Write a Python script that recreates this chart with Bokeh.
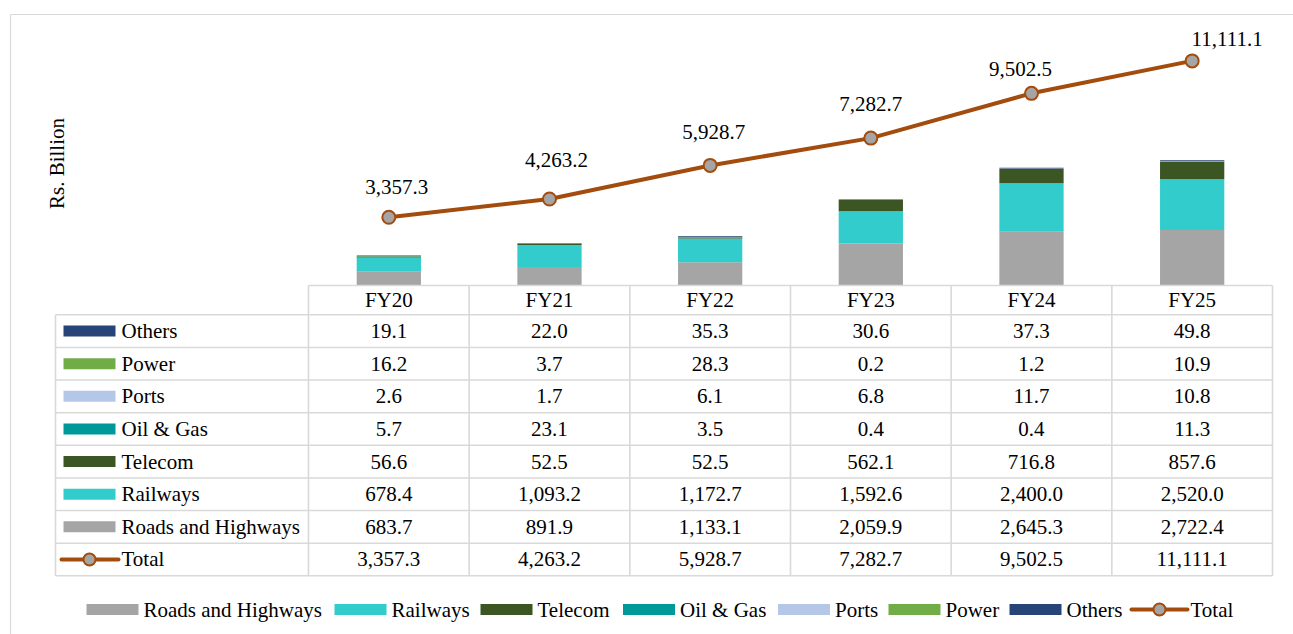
import math
from bokeh.plotting import figure
from bokeh.models import Range1d, ColumnDataSource
from bokeh.core.properties import value
from bokeh.embed import file_html
from bokeh.resources import INLINE

# ---------------- data ----------------
years = ["FY20", "FY21", "FY22", "FY23", "FY24", "FY25"]
roads = [683.7, 891.9, 1133.1, 2059.9, 2645.3, 2722.4]
railways = [678.4, 1093.2, 1172.7, 1592.6, 2400.0, 2520.0]
telecom = [56.6, 52.5, 52.5, 562.1, 716.8, 857.6]
oil_gas = [5.7, 23.1, 3.5, 0.4, 0.4, 11.3]
ports = [2.6, 1.7, 6.1, 6.8, 11.7, 10.8]
power = [16.2, 3.7, 28.3, 0.2, 1.2, 10.9]
others = [19.1, 22.0, 35.3, 30.6, 37.3, 49.8]
total = [3357.3, 4263.2, 5928.7, 7282.7, 9502.5, 11111.1]

series_names = ["Roads and Highways", "Railways", "Telecom", "Oil & Gas", "Ports", "Power", "Others"]
series_values = [roads, railways, telecom, oil_gas, ports, power, others]
series_keys = ["roads", "railways", "telecom", "oil_gas", "ports", "power", "others"]

# ---------------- styles ----------------
colors = ["#A5A5A5", "#33CCCC", "#3B5623", "#009999", "#B4C7E7", "#70AD47", "#264478"]
BROWN = "#A34C0D"
MARKER_FILL = "#A5A5A5"
GRID = "#D9D9D9"
FONT = value("'Liberation Serif', 'Times New Roman', 'DejaVu Serif', serif")
FS = value("21px")

# label offsets (screen px) for the total labels
label_dx = [8, 7, 3.5, 0, -11, 35]
label_dy = [-30, -39.5, -33.7, -34, -24.4, -21.5]

# ---------------- layout ----------------
W, H, OFF = 1293, 634, 0


def cx(px):
    return px - OFF


COL_W = 160.667
COL0 = cx(388.33)
ZERO_Y = cx(284.5)
PX_PER_UNIT = 0.02017

TBL_TOP = cx(285.0)
HDR_BOT = cx(314.3)
ROW_H = 32.625
LEFT = cx(55.0)
LBL_RIGHT = COL0 - COL_W / 2
RIGHT = LBL_RIGHT + 6 * COL_W
N_ROWS = 8

p = figure(
    width=W, height=H,
    x_range=Range1d(-COL0 / COL_W, (W - COL0) / COL_W),
    y_range=Range1d(-(H - ZERO_Y) / PX_PER_UNIT, ZERO_Y / PX_PER_UNIT),
    output_backend="svg", toolbar_location=None,
    x_axis_location=None, y_axis_location=None,
    min_border=0, outline_line_color=None,
    background_fill_color="white", border_fill_color="white",
)
p.xgrid.visible = False
p.ygrid.visible = False
p.extra_x_ranges = {"px": Range1d(0, W)}
p.extra_y_ranges = {"py": Range1d(H, 0)}
PX = dict(x_range_name="px", y_range_name="py")

# outer chart frame
p.segment(x0=[cx(10), cx(10)], y0=[cx(14), cx(14)], x1=[W + 5, cx(10)], y1=[cx(14), H + 5],
          line_color=GRID, line_width=1.2, **PX)

# ---------------- bars ----------------
xs = list(range(len(years)))
src_data = {"x": xs}
for k, v in zip(series_keys, series_values):
    src_data[k] = v
src = ColumnDataSource(src_data)
p.vbar_stack(series_keys, x="x", width=0.4, source=src,
             fill_color=colors, line_color=None)

# ---------------- total line ----------------
p.line(x=xs, y=total, line_color=BROWN, line_width=4)
p.scatter(x=xs, y=total, size=13, fill_color=MARKER_FILL, line_color=BROWN, line_width=2)
lbl_src = ColumnDataSource(dict(x=xs, y=total, t=[f"{v:,.1f}" for v in total],
                                dx=label_dx, dy=label_dy))
p.text(x="x", y="y", text="t", x_offset="dx", y_offset="dy", source=lbl_src,
       text_font=FONT, text_font_size=FS, text_align="center", text_baseline="middle",
       text_color="black")

# y axis title
p.text(x=[cx(56)], y=[cx(163)], text=["Rs. Billion"], angle=math.pi / 2,
       text_font=FONT, text_font_size=FS, text_align="center", text_baseline="middle",
       text_color="black", **PX)

# ---------------- data table ----------------
row_edges = [HDR_BOT + k * ROW_H for k in range(N_ROWS + 1)]
hx0, hy0, hx1, hy1 = [LBL_RIGHT], [TBL_TOP], [RIGHT], [TBL_TOP]
for e in row_edges:
    hx0.append(LEFT); hx1.append(RIGHT); hy0.append(e); hy1.append(e)
vx0, vy0, vx1, vy1 = [LEFT], [HDR_BOT], [LEFT], [row_edges[-1]]
for j in range(7):
    xx = LBL_RIGHT + j * COL_W
    vx0.append(xx); vx1.append(xx); vy0.append(TBL_TOP); vy1.append(row_edges[-1])
p.segment(x0=hx0 + vx0, y0=hy0 + vy0, x1=hx1 + vx1, y1=hy1 + vy1,
          line_color=GRID, line_width=1.6, **PX)

# header
p.text(x=xs, y=[(TBL_TOP + HDR_BOT) / 2] * len(xs), text=years, y_range_name="py",
       text_font=FONT, text_font_size=FS, text_align="center", text_baseline="middle",
       text_color="black")

table_names = list(reversed(series_names)) + ["Total"]
table_values = list(reversed(series_values)) + [total]
table_colors = list(reversed(colors))
row_centers = [HDR_BOT + (k + 0.5) * ROW_H for k in range(N_ROWS)]

vt_x, vt_y, vt_t = [], [], []
for k, vals in enumerate(table_values):
    for i, v in enumerate(vals):
        vt_x.append(i); vt_y.append(row_centers[k]); vt_t.append(f"{v:,.1f}")
p.text(x=vt_x, y=vt_y, text=vt_t, y_range_name="py",
       text_font=FONT, text_font_size=FS, text_align="center", text_baseline="middle",
       text_color="black")

# row labels + keys
p.text(x=[cx(121)] * N_ROWS, y=row_centers, text=table_names,
       text_font=FONT, text_font_size=FS, text_align="left", text_baseline="middle",
       text_color="black", **PX)
p.rect(x=[cx(89)] * 7, y=row_centers[:7], width=52, height=11,
       fill_color=table_colors, line_color=None, **PX)
p.line(x=[cx(61), cx(118)], y=[row_centers[7]] * 2, line_color=BROWN, line_width=4,
       line_cap="round", **PX)
p.scatter(x=[cx(89)], y=[row_centers[7]], size=12, fill_color=MARKER_FILL,
          line_color=BROWN, line_width=2, **PX)

# ---------------- bottom legend ----------------
LEG_Y = cx(609)
leg_x = [86, 334, 480, 622.5, 777.5, 888, 1009]
p.rect(x=[cx(a) + 26 for a in leg_x], y=[LEG_Y] * 7, width=52, height=11,
       fill_color=colors, line_color=None, **PX)
p.text(x=[cx(a) + 57 for a in leg_x], y=[LEG_Y] * 7, text=series_names,
       text_font=FONT, text_font_size=FS, text_align="left", text_baseline="middle",
       text_color="black", **PX)
TOT_X = 1131
p.line(x=[cx(TOT_X), cx(TOT_X) + 56], y=[LEG_Y] * 2, line_color=BROWN, line_width=4,
       line_cap="round", **PX)
p.scatter(x=[cx(TOT_X) + 28], y=[LEG_Y], size=12, fill_color=MARKER_FILL,
          line_color=BROWN, line_width=2, **PX)
p.text(x=[cx(TOT_X) + 59], y=[LEG_Y], text=["Total"],
       text_font=FONT, text_font_size=FS, text_align="left", text_baseline="middle",
       text_color="black", **PX)

open("out.html", "w").write(file_html(p, INLINE))
